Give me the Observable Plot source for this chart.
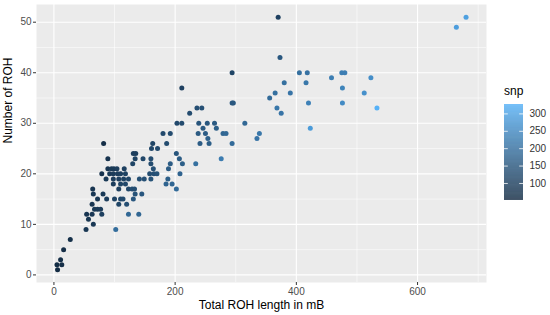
<!DOCTYPE html>
<html>
<head>
<meta charset="utf-8">
<script src="https://cdn.jsdelivr.net/npm/d3@7"></script>
<script src="https://cdn.jsdelivr.net/npm/@observablehq/plot@0.6"></script>
<style>
  html, body { margin: 0; padding: 0; background: #fff; }
  #wrap { position: relative; width: 550px; height: 315px; font-family: "Liberation Sans", Arial, sans-serif; }
  #legend { position: absolute; left: 504px; top: 100px; }
  #ltitle { position: absolute; left: 504px; top: 84px; font-size: 12px; color: #000; }
</style>
</head>
<body>
<div id="wrap">
  <div id="chart"></div>
  <div id="ltitle">snp</div>
  <div id="legend"></div>
</div>
<script>
// Total ROH length (mB)
const rohLength = [6,5,13,11,16,27,53,102,65,57,54,63,79,123,140,67,72,77,63,107,120,72,87,100,110,114,131,65,81,134,145,64,107,123,129,133,202,98,110,118,185,195,86,98,107,115,123,141,149,160,188,79,92,98,105,110,118,158,165,170,208,89,95,99,104,116,164,189,130,160,192,212,234,89,134,147,160,207,276,131,135,202,161,171,82,163,186,241,256,294,254,335,180,192,238,250,279,284,339,246,268,423,203,211,239,253,265,315,224,375,236,244,368,533,294,296,420,476,356,365,390,512,211,476,380,416,458,523,294,405,418,475,480,373,664,370,680];
// Number of ROH
const rohCount = [1,2,2,3,5,7,9,9,10,11,12,12,12,12,12,13,13,13,14,14,14,15,15,15,15,15,15,16,16,16,16,17,17,17,17,17,17,18,18,18,18,18,19,19,19,19,19,19,19,19,19,20,20,20,20,20,20,20,20,20,20,21,21,21,21,21,21,21,22,22,22,22,22,23,23,23,23,23,23,24,24,24,25,25,26,26,26,26,26,26,27,27,28,28,28,28,28,28,28,29,29,29,30,30,30,30,30,30,32,32,33,33,33,33,34,34,34,34,35,36,36,36,37,37,38,38,39,39,40,40,40,40,40,43,49,51,51];
// snp
const snp = [51,55,58,60,58,62,78,195,82,76,75,80,98,185,180,85,86,90,75,110,130,80,95,105,115,120,150,80,85,140,150,75,100,115,130,130,190,95,110,115,175,180,85,95,100,105,115,135,135,140,165,70,85,90,95,100,105,130,135,140,175,75,85,85,95,100,135,160,110,125,160,165,200,70,105,115,125,160,225,95,95,145,115,120,60,110,125,160,165,190,170,210,120,125,155,160,180,185,215,155,165,285,120,125,145,150,155,185,125,210,130,135,215,327,150,150,235,255,190,200,210,265,100,240,200,215,230,260,110,200,205,230,230,150,290,100,295];

const xTicks = [0, 200, 400, 600];
const xMinor = [100, 300, 500, 700];
const yTicks = [0, 10, 20, 30, 40, 50];
const yMinor = [5, 15, 25, 35, 45];
const legendTicks = [100, 150, 200, 250, 300];
const xTitle = "Total ROH length in mB";
const yTitle = "Number of ROH";

const data = rohLength.map((x, i) => ({x, y: rohCount[i], snp: snp[i]}));

function expand(arr) {
  const [a, b] = d3.extent(arr);
  const p = (b - a) * 0.05;
  return [a - p, b + p];
}
const snpDomain = d3.extent(snp);
const colorScale = {type: "linear", domain: snpDomain, range: ["#132B43", "#56B1F7"], interpolate: d3.interpolateLab};

const chart = Plot.plot({
  width: 550,
  height: 315,
  marginLeft: 36,
  marginRight: 64,
  marginTop: 4,
  marginBottom: 33,
  style: {fontFamily: "Liberation Sans, Arial, sans-serif", background: "white"},
  x: {domain: expand(rohLength)},
  y: {domain: expand(rohCount)},
  color: colorScale,
  marks: [
    Plot.frame({fill: "#EBEBEB", stroke: null}),
    Plot.gridX(xMinor, {stroke: "white", strokeOpacity: 1, strokeWidth: 0.55}),
    Plot.gridY(yMinor, {stroke: "white", strokeOpacity: 1, strokeWidth: 0.55}),
    Plot.gridX(xTicks, {stroke: "white", strokeOpacity: 1, strokeWidth: 1.1}),
    Plot.gridY(yTicks, {stroke: "white", strokeOpacity: 1, strokeWidth: 1.1}),
    Plot.axisX(xTicks, {tickSize: 3, tickPadding: 2, stroke: "#333", fill: "#4D4D4D", fontSize: 10, label: null}),
    Plot.axisY(yTicks, {tickSize: 3, tickPadding: 2, stroke: "#333", fill: "#4D4D4D", fontSize: 10, label: null}),
    Plot.dot(data, {x: "x", y: "y", fill: "snp", r: 2.5}),
    Plot.text([xTitle], {text: d => d, frameAnchor: "bottom", dy: 23, lineAnchor: "middle", fontSize: 12, fill: "#000"}),
    Plot.text([yTitle], {text: d => d, frameAnchor: "left", dx: -28, rotate: -90, lineAnchor: "middle", fontSize: 12, fill: "#000"})
  ]
});
document.getElementById("chart").appendChild(chart);

// legend colour bar
const step = 1;
const slices = d3.range(snpDomain[0], snpDomain[1], step);
const legend = Plot.plot({
  width: 46,
  height: 104,
  marginLeft: 0,
  marginRight: 27,
  marginTop: 4,
  marginBottom: 4,
  style: {fontFamily: "Liberation Sans, Arial, sans-serif", background: "transparent"},
  x: {domain: [0, 1], axis: null},
  y: {domain: snpDomain},
  color: colorScale,
  marks: [
    Plot.rect(slices, {x1: 0, x2: 1, y1: d => d, y2: d => Math.min(d + step + 0.3, snpDomain[1]), fill: d => d + step / 2}),
    Plot.ruleY(legendTicks, {x1: 0, x2: 0.2, stroke: "white", strokeWidth: 0.8}),
    Plot.ruleY(legendTicks, {x1: 0.8, x2: 1, stroke: "white", strokeWidth: 0.8}),
    Plot.axisY(legendTicks, {anchor: "right", tickSize: 0, tickPadding: 6, fontSize: 10, fill: "#333", label: null})
  ]
});
document.getElementById("legend").appendChild(legend);
</script>
</body>
</html>
